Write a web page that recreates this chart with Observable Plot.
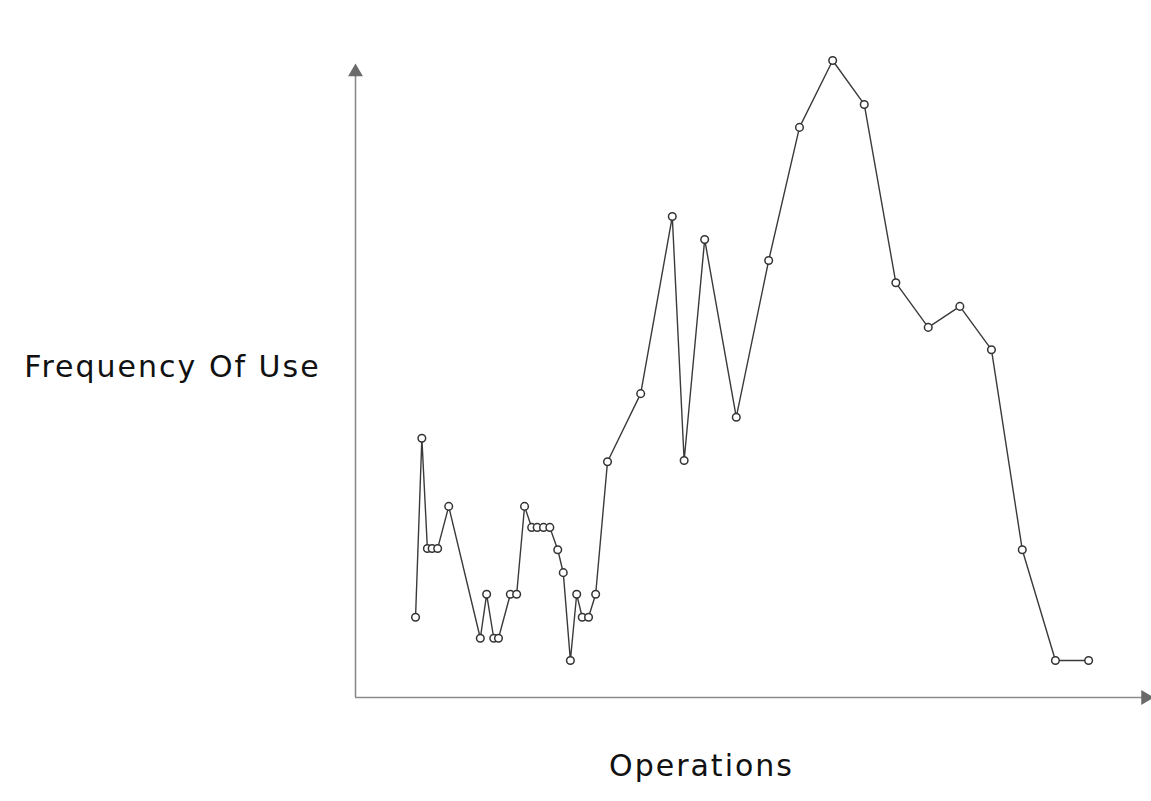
<!DOCTYPE html>
<html>
<head>
<meta charset="utf-8">
<script src="https://cdn.jsdelivr.net/npm/d3@7"></script>
<script src="https://cdn.jsdelivr.net/npm/@observablehq/plot@0.6"></script>
<style>
  html, body { margin: 0; padding: 0; background: #fff; }
</style>
</head>
<body>
<div id="chart"></div>
<script>
// Operations (x position) and frequency of use (y)
const operations = [7.6, 8.4, 9.1, 9.7, 10.4, 11.8, 15.8, 16.6, 17.5, 18.1, 19.6, 20.4, 21.4,
  22.3, 23.0, 23.8, 24.6, 25.6, 26.3, 27.2, 28.0, 28.7, 29.5, 30.4, 31.9,
  36.1, 40.1, 41.6, 44.2, 48.2, 52.3, 56.2, 60.4, 64.4, 68.4, 72.5, 76.5, 80.5, 84.4, 88.6, 92.8];
const frequency = [12.6, 40.7, 23.4, 23.4, 23.4, 30.0, 9.3, 16.2, 9.3, 9.3, 16.2, 16.2, 30.0,
  26.7, 26.7, 26.7, 26.7, 23.2, 19.6, 5.8, 16.2, 12.6, 12.6, 16.2, 37.0,
  47.7, 75.5, 37.2, 71.9, 44.0, 68.6, 89.5, 100, 93.1, 65.1, 58.1, 61.4, 54.6, 23.2, 5.8, 5.8];

const xLabel = "Operations";
const yLabel = "Frequency Of Use";
const xDomain = [0, 100];
const yDomain = [0, 100];
const yAxisTop = 98.2;

const data = operations.map((x, i) => ({x, y: frequency[i]}));

const font = "'xkcd Script', 'Humor Sans', 'Comic Sans MS', 'Segoe Print', 'DejaVu Sans', sans-serif";

const chart = Plot.plot({
  width: 1151,
  height: 801,
  marginLeft: 355,
  marginRight: 6,
  marginTop: 60,
  marginBottom: 104,
  x: {domain: xDomain, axis: null},
  y: {domain: yDomain, axis: null},
  style: {background: "#fff", overflow: "visible"},
  marks: [
    // axes with arrowheads
    Plot.ruleY([yDomain[0]], {x1: xDomain[0], x2: xDomain[1], stroke: "#8a8a8a", strokeWidth: 1.6}),
    Plot.ruleX([xDomain[0]], {y1: yDomain[0], y2: yAxisTop, stroke: "#8a8a8a", strokeWidth: 1.6}),
    Plot.dot([{x: xDomain[0], y: yAxisTop}], {x: "x", y: "y", symbol: "triangle", r: 5.5, fill: "#6a6a6a", stroke: "none"}),
    Plot.dot([{x: xDomain[1], y: yDomain[0]}], {x: "x", y: "y", symbol: "triangle", r: 5.5, rotate: 90, fill: "#6a6a6a", stroke: "none"}),
    // series
    Plot.line(data, {x: "x", y: "y", stroke: "#3a3a3a", strokeWidth: 1.4}),
    Plot.dot(data, {x: "x", y: "y", r: 3.8, fill: "#fff", stroke: "#333", strokeWidth: 1.5}),
    // labels
    Plot.text([yLabel], {frameAnchor: "left", dx: -183, dy: -12, text: d => d, fontSize: 30, fill: "#111", fontFamily: font, textAnchor: "middle"}),
    Plot.text([xLabel], {frameAnchor: "bottom", dx: -49, dy: 78, text: d => d, fontSize: 30, fill: "#111", fontFamily: font, textAnchor: "middle"})
  ]
});
chart.querySelectorAll("text").forEach(t => {
  t.setAttribute("font-family", font);
  t.setAttribute("letter-spacing", "2px");
});
document.getElementById("chart").appendChild(chart);
</script>
</body>
</html>
